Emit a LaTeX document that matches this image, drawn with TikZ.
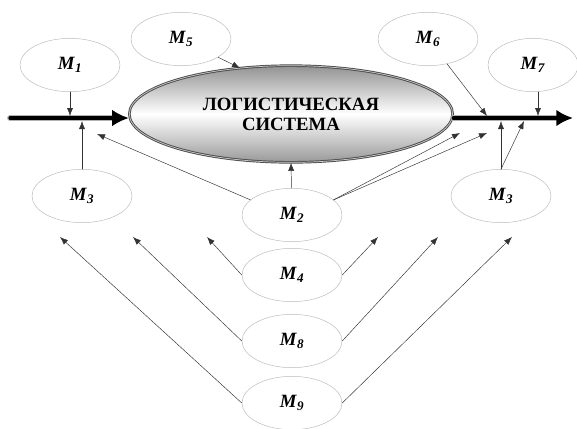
\documentclass[tikz,border=0pt]{standalone}
\usepackage{fontspec}
\setmainfont{Liberation Serif}
\usetikzlibrary{arrows.meta,positioning,shapes.geometric}

\newcommand{\mlab}[1]{\textbf{\textit{M}\textsubscript{\textit{#1}}}}

\tikzset{
  factor/.style={ellipse, draw=gray!55, thin, minimum width=3cm,
    minimum height=1.6cm, inner sep=0pt, font=\fontsize{16}{18}\selectfont},
  link/.style={-{Latex[length=2.4mm,width=1.8mm]}, gray!40!black, thin},
  flowedge/.style={line width=5pt, gray!60},
  flowcore/.style={line width=2.6pt, black, -{Latex[length=5mm,width=5mm]}}
}

\begin{document}
\begin{tikzpicture}[x=0.3mm, y=-0.3mm, >=Latex, line cap=round, line join=round]
  \useasboundingbox (0,0) rectangle (577,428);

  % central system
  \node[ellipse, minimum width=9.7cm, minimum height=2.9cm, inner sep=0pt,
        draw=gray!60!black, double=gray!40, double distance=0.6pt, thick,
        top color=gray!85, bottom color=gray!80, middle color=white,
        align=center, font=\fontsize{16}{18}\selectfont\bfseries]
        (sys) at (291,114) {ЛОГИСТИЧЕСКАЯ\\[-1pt]СИСТЕМА};

  % material flow
  \coordinate (in) at (10,118);
  \coordinate (out) at (573,118);
  \draw[flowedge] (in) -- ([xshift=-12pt]sys.west |- in);
  \draw[flowcore] (in) -- (sys.west |- in);
  \draw[flowedge] (sys.east |- out) -- ([xshift=-12pt]out);
  \draw[flowcore] (sys.east |- out) -- (out);

  % factors
  \node[factor] (m1) at (70,65) {\mlab{1}};
  \node[factor] (m5) at (181,39) {\mlab{5}};
  \node[factor] (m3l) at (82,196) {\mlab{3}};
  \node[factor] (m2) at (292,215) {\mlab{2}};
  \node[factor] (m4) at (292,275) {\mlab{4}};
  \node[factor] (m8) at (292,341) {\mlab{8}};
  \node[factor] (m9) at (292,403) {\mlab{9}};
  \node[factor] (m6) at (428,39) {\mlab{6}};
  \node[factor, minimum width=2.7cm] (m7) at (533,65) {\mlab{7}};
  \node[factor] (m3r) at (501,196) {\mlab{3}};

  % points on the flow
  \coordinate (p1) at (70,116);
  \coordinate (p3l) at (82,121);
  \coordinate (p6) at (487,116);
  \coordinate (p7) at (538,116);
  \coordinate (p3a) at (501,121);
  \coordinate (p3b) at (524,121);
  \coordinate (p5) at (240,68);

  % free ends
  \coordinate (q2l) at (97,134);
  \coordinate (q2a) at (460,133);
  \coordinate (q2b) at (487,133);
  \coordinate (q4l) at (207,237);
  \coordinate (q4r) at (378,237);
  \coordinate (q8l) at (133,237);
  \coordinate (q8r) at (438,237);
  \coordinate (q9l) at (60,237);
  \coordinate (q9r) at (512,237);

  \draw[link] (m1) -- (p1);
  \draw[link] (m3l) -- (p3l);
  \draw[link] (m5) -- (p5);
  \draw[link] (m6) -- (p6);
  \draw[link] (m7.south -| p7) -- (p7);
  \draw[link] (m3r.north) -- (p3a);
  \draw[link] (m3r.north) -- (p3b);

  \draw[link] (m2) -- (sys.south);
  \draw[link] (m2.160) -- (q2l);
  \draw[link] (m2.20) -- (q2a);
  \draw[link] (m2.20) -- (q2b);

  \draw[link] (m4.west) -- (q4l);
  \draw[link] (m4.east) -- (q4r);
  \draw[link] (m8.west) -- (q8l);
  \draw[link] (m8.east) -- (q8r);
  \draw[link] (m9.west) -- (q9l);
  \draw[link] (m9.east) -- (q9r);
\end{tikzpicture}
\end{document}
